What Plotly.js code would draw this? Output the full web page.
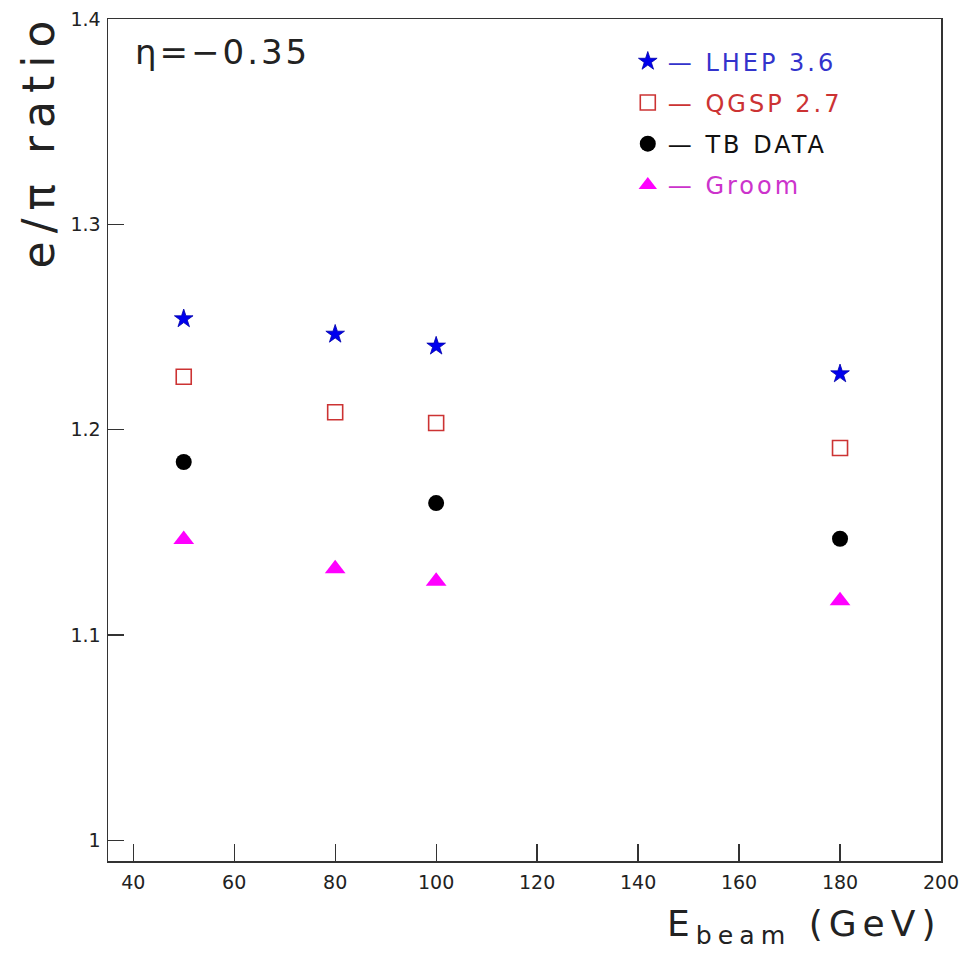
<!DOCTYPE html>
<html>
<head>
<meta charset="utf-8">
<script src="https://cdn.plot.ly/plotly-3.0.1.min.js"></script>
<style>body{margin:0;background:#fff;}</style>
</head>
<body>
<div id="chart" style="width:966px;height:956px;"></div>
<script>
// Beam energies (GeV)
const energyLHEP = [50, 80, 100, 180];
const energyQGSP = [50, 80, 100, 180];
const energyTB = [50, 100, 180];
const energyGroom = [50, 80, 100, 180];

// e/pi ratio values
const ratioLHEP = [1.254, 1.2465, 1.2407, 1.2272];
const ratioQGSP = [1.2258, 1.2085, 1.2033, 1.1911];
const ratioTB = [1.1843, 1.1643, 1.1469];
const ratioGroom = [1.1466, 1.1323, 1.1262, 1.1167];

// Labels
const labelLHEP = 'LHEP 3.6';
const labelQGSP = 'QGSP 2.7';
const labelTB = 'TB DATA';
const labelGroom = 'Groom';
const xTickVals = [40, 60, 80, 100, 120, 140, 160, 180, 200];
const yTickVals = [1, 1.1, 1.2, 1.3, 1.4];
const yTickText = ['1', '1.1', '1.2', '1.3', '1.4'];

const FONT = 'DejaVu Sans, Liberation Sans, sans-serif';

function lg(text, color) {
  return '<span style="color:' + color + ';letter-spacing:3px">\u2014 ' + text + '</span>';
}

const traces = [
  {x: energyLHEP, y: ratioLHEP, mode: 'markers', type: 'scatter', name: lg(labelLHEP, '#3333cc'),
   legendgroup: 'a',
   marker: {symbol: 'star', size: 14, color: '#0000ee', line: {color: '#0000aa', width: 0.8}}},
  {x: energyQGSP, y: ratioQGSP, mode: 'markers', type: 'scatter', name: lg(labelQGSP, '#cc3333'),
   legendgroup: 'b',
   marker: {symbol: 'square-open', size: 15, color: '#cc3333', line: {color: '#cc3333', width: 1.6}}},
  {x: energyTB, y: ratioTB, mode: 'markers', type: 'scatter', name: lg(labelTB, '#111111'),
   legendgroup: 'c',
   marker: {symbol: 'circle', size: 16, color: '#000000'}},
  {x: energyGroom, y: ratioGroom, mode: 'markers', type: 'scatter', name: lg(labelGroom, '#cc33cc'),
   legendgroup: 'd',
   marker: {symbol: 'triangle-up', size: 18, color: '#ff00ff'}}
];

const layout = {
  width: 966, height: 956,
  margin: {l: 108, r: 25, t: 19, b: 95},
  paper_bgcolor: '#ffffff', plot_bgcolor: '#ffffff',
  font: {family: FONT, color: '#222222', size: 19},
  showlegend: true,
  legend: {x: 0.624, y: 0.976, xanchor: 'left', yanchor: 'top',
           bgcolor: 'rgba(0,0,0,0)', borderwidth: 0,
           font: {family: FONT, size: 24}, tracegroupgap: 7, traceorder: 'grouped'},
  xaxis: {range: [35, 200], tickvals: xTickVals, ticks: 'inside', ticklen: 17, tickwidth: 1.3,
          tickcolor: '#333', showline: true, mirror: true, linecolor: '#333', linewidth: 1.5,
          showgrid: false, zeroline: false, ticklabelstandoff: 4,
          tickfont: {family: FONT, size: 19, color: '#222'}},
  yaxis: {range: [0.99, 1.4], tickvals: yTickVals, ticktext: yTickText, ticks: 'inside', ticklen: 16,
          tickwidth: 1.3, tickcolor: '#333', showline: true, mirror: true, linecolor: '#333',
          linewidth: 1.5, showgrid: false, zeroline: false, ticklabelstandoff: 2,
          tickfont: {family: FONT, size: 19, color: '#222'}},
  annotations: [
    {text: '<span style="letter-spacing:3px">\u03b7=\u22120.35</span>', xref: 'paper', yref: 'paper',
     x: 0.03, y: 0.987, xanchor: 'left', yanchor: 'top', showarrow: false,
     font: {family: FONT, size: 34, color: '#222'}},
    {text: '<span style="letter-spacing:6px">E<sub>beam</sub> (GeV)</span>', xref: 'paper', yref: 'paper',
     x: 1.003, y: -0.108, xanchor: 'right', yanchor: 'bottom', showarrow: false,
     font: {family: FONT, size: 36, color: '#222'}},
    {text: '<span style="letter-spacing:8px">e/\u03c0 ratio</span>', xref: 'paper', yref: 'paper',
     x: -0.083, y: 1.01, xanchor: 'center', yanchor: 'top', textangle: -90, showarrow: false,
     font: {family: FONT, size: 44, color: '#222'}}
  ]
};

Plotly.newPlot('chart', traces, layout, {displayModeBar: false, staticPlot: true});
</script>
</body>
</html>
